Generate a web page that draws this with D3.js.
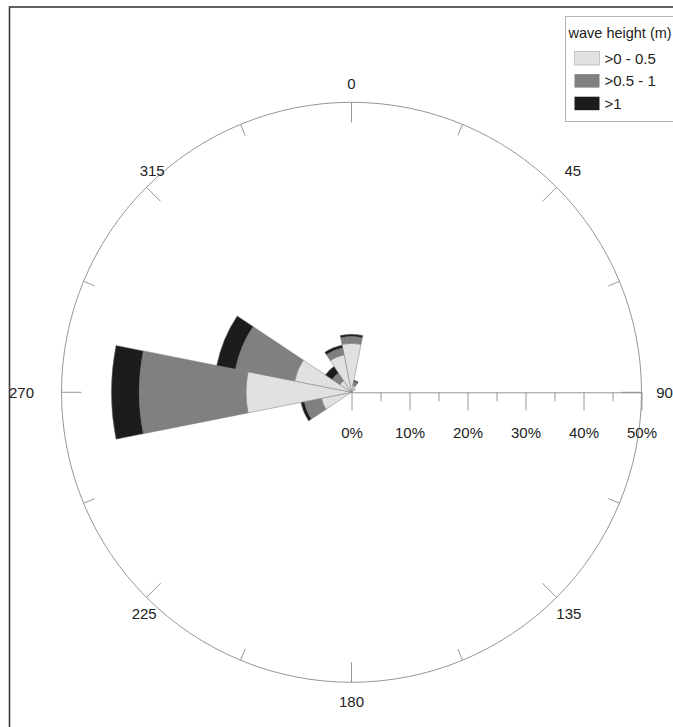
<!DOCTYPE html>
<html>
<head>
<meta charset="utf-8">
<script src="https://cdn.jsdelivr.net/npm/d3@7"></script>
<style>
  html, body { margin: 0; padding: 0; background: #fff; }
  svg { display: block; }
  text { font-family: Arial, "Liberation Sans", sans-serif; fill: #222; }
</style>
</head>
<body>
<svg id="chart" width="673" height="727"></svg>
<script>
// Direction sectors (degrees, clockwise from north), 22.5° wide
const directions = [0, 22.5, 45, 67.5, 90, 112.5, 135, 157.5, 180, 202.5, 225, 247.5, 270, 292.5, 315, 337.5];

// Frequency (%) of each wave-height class per direction
const pctLow  = [8.45, 1.2, 0.8, 0, 0, 0, 0, 0, 0, 0, 0, 5.3, 18.2, 10.0, 2.4, 6.6];
const pctMid  = [1.15, 0.7, 0,   0, 0, 0, 0, 0, 0, 0, 0, 3.0, 18.4, 10.4, 1.6, 1.2];
const pctHigh = [0.4,  0.2, 0,   0, 0, 0, 0, 0, 0, 0, 0, 0.6, 4.8,  3.3,  1.4, 0.5];

const classLabels = [">0 - 0.5", ">0.5 - 1", ">1"];
const classColors = ["#e1e1e1", "#808080", "#1c1c1c"];

// Compass labels and radial tick values
const compassLabels = ["0", "45", "90", "135", "180", "225", "270", "315"];
const radialTicks = [0, 10, 20, 30, 40, 50];
const radialMinorTicks = [5, 15, 25, 35, 45];

const svg = d3.select("#chart");
const cx = 351.5, cy = 392.3, R = 290;
const r = d3.scaleLinear().domain([0, 50]).range([0, R]);
const rad = d => d * Math.PI / 180;
const sectorHalf = 11.25;

// Outer frame
svg.append("rect")
  .attr("x", 9.5).attr("y", 7).attr("width", 720).attr("height", 760)
  .attr("fill", "#fff").attr("stroke", "#3a3a3a").attr("stroke-width", 1.6);

const g = svg.append("g").attr("transform", `translate(${cx},${cy})`);

// Outer circle
g.append("circle").attr("r", R).attr("fill", "none")
  .attr("stroke", "#8a8a8a").attr("stroke-width", 0.9);

// Direction ticks on the circle
const circleTicks = d3.range(0, 360, 22.5);
g.selectAll("line.ctick").data(circleTicks).join("line")
  .attr("class", "ctick")
  .attr("x1", d => R * Math.sin(rad(d)))
  .attr("y1", d => -R * Math.cos(rad(d)))
  .attr("x2", d => (R - (d % 45 === 0 ? 20 : 12)) * Math.sin(rad(d)))
  .attr("y2", d => -(R - (d % 45 === 0 ? 20 : 12)) * Math.cos(rad(d)))
  .attr("stroke", "#8a8a8a").attr("stroke-width", 0.9);

// Stacked wedges
const stackRows = directions.map((dir, i) => {
  const vals = [pctLow[i], pctMid[i], pctHigh[i]];
  let acc = 0;
  return vals.map((v, k) => {
    const seg = { dir, k, inner: acc, outer: acc + v };
    acc += v;
    return seg;
  }).filter(s => s.outer > s.inner);
}).flat();

const arc = d3.arc()
  .innerRadius(d => r(d.inner))
  .outerRadius(d => r(d.outer))
  .startAngle(d => rad(d.dir - sectorHalf))
  .endAngle(d => rad(d.dir + sectorHalf));

g.selectAll("path.wedge").data(stackRows).join("path")
  .attr("class", "wedge")
  .attr("d", arc)
  .attr("fill", d => classColors[d.k])
  .attr("stroke", "#7a7a7a").attr("stroke-width", 0.5);

// Radial axis along 90°
const axisG = g.append("g");
axisG.call(d3.axisBottom(r).tickValues(radialTicks).tickSize(18).tickSizeOuter(0)
  .tickPadding(17).tickFormat(d => d + "%"));
axisG.select(".domain").attr("stroke", "#8a8a8a").attr("stroke-width", 0.9);
axisG.selectAll(".tick line").attr("stroke", "#8a8a8a").attr("stroke-width", 0.9);
axisG.selectAll(".tick text").attr("font-size", 15).attr("fill", "#222")
  .attr("font-family", "Arial, 'Liberation Sans', sans-serif");

const minorG = g.append("g");
minorG.call(d3.axisBottom(r).tickValues(radialMinorTicks).tickSize(9).tickSizeOuter(0).tickFormat(""));
minorG.select(".domain").remove();
minorG.selectAll(".tick line").attr("stroke", "#8a8a8a").attr("stroke-width", 0.9);

// Compass labels
const labelNudge = { "0": [0, 4], "45": [0, 0], "90": [0, 0], "135": [-4, 0], "180": [0, -4], "225": [14, 0], "270": [-17, 0], "315": [22, 0] };
g.selectAll("text.compass").data(compassLabels).join("text")
  .attr("class", "compass")
  .attr("x", d => 313 * Math.sin(rad(+d)) + labelNudge[d][0])
  .attr("y", d => -313 * Math.cos(rad(+d)) + labelNudge[d][1])
  .attr("dy", "0.35em")
  .attr("text-anchor", "middle")
  .attr("font-size", 15)
  .text(d => d);

// Legend
const leg = svg.append("g").attr("transform", "translate(565.5,16.5)");
leg.append("rect").attr("width", 140).attr("height", 105)
  .attr("fill", "#fff").attr("stroke", "#b5b5b5").attr("stroke-width", 1);
leg.append("text").attr("x", 3).attr("y", 21.5).attr("font-size", 14.5).text("wave height (m)");
const items = leg.selectAll("g.item").data(classLabels).join("g")
  .attr("class", "item")
  .attr("transform", (d, i) => `translate(9,${35 + i * 22.6})`);
items.append("rect").attr("width", 25).attr("height", 13.5)
  .attr("fill", (d, i) => classColors[i])
  .attr("stroke", (d, i) => i === 0 ? "#c4c4c4" : "none");
items.append("text").attr("x", 30).attr("y", 7).attr("dy", "0.35em")
  .attr("font-size", 15).text(d => d);
</script>
</body>
</html>
